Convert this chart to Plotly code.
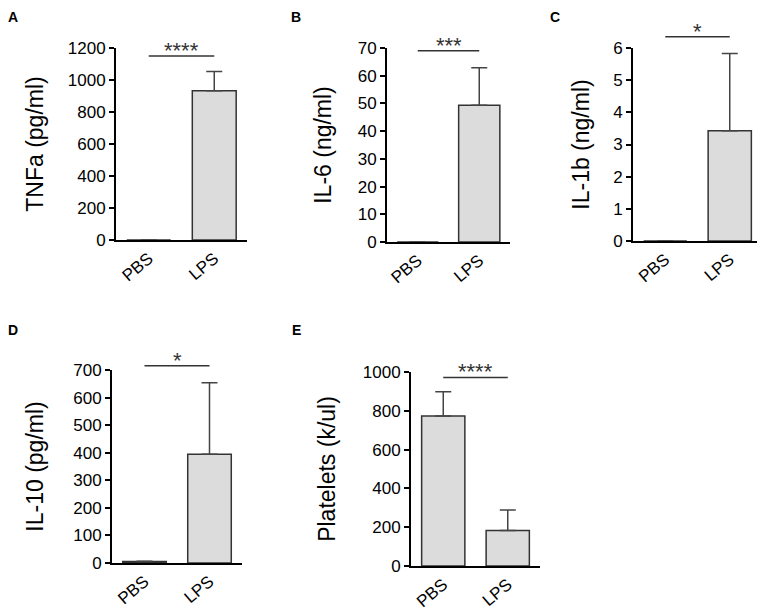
import plotly.graph_objects as go

# ── Data ───────────────────────────────────────────────────
groups = ["PBS", "LPS"]

tnfa_mean = [0, 933]
tnfa_sd = [0, 120]
il6_mean = [0, 49.3]
il6_sd = [0, 13.6]
il1b_mean = [0, 3.43]
il1b_sd = [0, 2.4]
il10_mean = [5, 394]
il10_sd = [1, 260]
platelet_mean = [773, 183]
platelet_sd = [125, 106]

panel_letters = ["A", "B", "C", "D", "E"]
y_titles = ["TNFa (pg/ml)", "IL-6 (ng/ml)", "IL-1b (ng/ml)", "IL-10 (pg/ml)", "Platelets (k/ul)"]
y_max = [1200, 70, 6, 700, 1000]
y_step = [200, 10, 1, 100, 200]
sig_stars = ["****", "***", "*", "*", "****"]
sig_level = [1150, 69, 6.35, 715, 972]

means = [tnfa_mean, il6_mean, il1b_mean, il10_mean, platelet_mean]
sds = [tnfa_sd, il6_sd, il1b_sd, il10_sd, platelet_sd]

# ── Layout geometry (window pixels, 765x610) ───────────────
# the page body has an 8px margin, so the figure is drawn 8px smaller
OFF = 8
W, H = 765 - OFF, 610 - OFF


def px_x(p):
    return (p - OFF) / W


def px_y(p):
    return 1 - (p - OFF) / H


# left, right, top, bottom of each plotting box
boxes = [
    (116, 247, 48, 240),
    (387, 510, 48, 242),
    (633, 762, 48, 241),
    (112, 242, 370, 563),
    (411, 540, 372, 566),
]
letter_pos = [(13, 17), (296, 17), (555, 17), (13, 330), (296, 330)]
title_standoff = [18, 20, 17, 23, 21]

FONT = "Liberation Sans, Arial, sans-serif"
X_RANGE = [-0.5, 1.5]

fig = go.Figure()
shapes = []
annotations = []

for i in range(5):
    n = "" if i == 0 else str(i + 1)
    xa, ya = "x" + n, "y" + n
    l, r, t, b = boxes[i]

    fig.add_trace(go.Bar(
        x=groups,
        y=means[i],
        xaxis=xa, yaxis=ya,
        marker=dict(color="#dcdcdc", line=dict(color="#333333", width=1.5)),
        error_y=dict(type="data", array=sds[i], arrayminus=[0, 0], symmetric=False,
                     color="#444444", thickness=1.5, width=8),
        showlegend=False,
        hoverinfo="skip",
    ))

    ticks = list(range(0, y_max[i] + 1, y_step[i]))
    fig.update_layout(**{
        ("xaxis" + n): dict(
            domain=[px_x(l), px_x(r)], anchor=ya, type="category", range=X_RANGE,
            showline=True, linecolor="black", linewidth=2, ticks="",
            tickangle=-40, tickfont=dict(size=17, color="black", family=FONT),
            showgrid=False, zeroline=False, fixedrange=True, automargin=False,
        ),
        ("yaxis" + n): dict(
            domain=[px_y(b), px_y(t)], anchor=xa, range=[0, y_max[i]],
            tickvals=ticks, ticktext=[str(v) for v in ticks],
            showline=True, linecolor="black", linewidth=2,
            ticks="outside", ticklen=5, tickwidth=2, tickcolor="black",
            tickfont=dict(size=17, color="black", family=FONT),
            title=dict(text=y_titles[i], font=dict(size=23, color="black", family=FONT),
                       standoff=title_standoff[i]),
            showgrid=False, zeroline=False, fixedrange=True, automargin=False,
        ),
    })

    # significance bracket from PBS centre to LPS centre (in domain fractions)
    span = X_RANGE[1] - X_RANGE[0]
    x0 = (0 - X_RANGE[0]) / span
    x1 = (1 - X_RANGE[0]) / span
    yd = sig_level[i] / y_max[i]
    shapes.append(dict(type="line", xref=xa + " domain", yref=ya + " domain",
                       x0=x0, x1=x1, y0=yd, y1=yd,
                       line=dict(color="#333333", width=1.5)))
    annotations.append(dict(text=sig_stars[i], xref=xa + " domain", yref=ya + " domain",
                            x=(x0 + x1) / 2, y=yd, xanchor="center", yanchor="bottom",
                            yshift=-9, showarrow=False,
                            font=dict(size=22, color="#333333", family=FONT)))

    lx, ly = letter_pos[i]
    annotations.append(dict(text="<b>%s</b>" % panel_letters[i], xref="paper", yref="paper",
                            x=px_x(lx), y=px_y(ly), xanchor="center", yanchor="middle",
                            showarrow=False, font=dict(size=14, color="black", family=FONT)))

fig.update_layout(
    template="none",
    width=W, height=H,
    margin=dict(l=0, r=0, t=0, b=0, pad=0),
    plot_bgcolor="white", paper_bgcolor="white",
    bargap=0.33,
    shapes=shapes,
    annotations=annotations,
    font=dict(family=FONT),
)

fig.write_html("out.html")
